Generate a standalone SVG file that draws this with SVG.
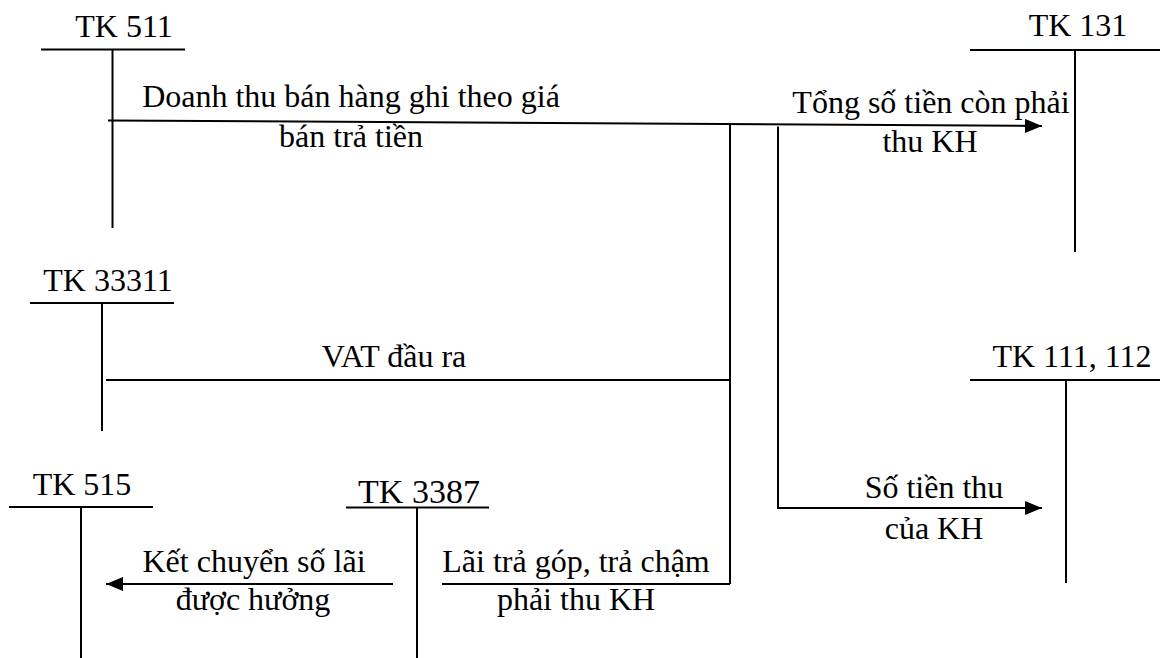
<svg xmlns="http://www.w3.org/2000/svg" width="1160" height="658" viewBox="0 0 1160 658" font-family="'Liberation Serif', 'Times New Roman', Times, 'DejaVu Serif', serif">
  <style>
    text { font-family: "Times New Roman", "Liberation Serif", Times, "DejaVu Serif", serif; font-size: 32px; fill: #000; text-anchor: middle; }
    .acc line, .flow line, .flow polyline { stroke: #000; stroke-width: 2; fill: none; }
    .big { font-size: 34px; }
  </style>
  <defs>
    <marker id="arrow" viewBox="0 0 17 14" refX="17" refY="7" markerWidth="17" markerHeight="14" markerUnits="userSpaceOnUse" orient="auto">
      <path d="M0,0 L17,7 L0,14 Z" fill="#000"/>
    </marker>
  </defs>

  <rect width="1160" height="658" fill="#fff"/>

  <!-- T-accounts -->
  <g id="tk511" class="acc">
    <text x="124" y="37">TK 511</text>
    <line x1="41" y1="49.5" x2="185" y2="49.5"/>
    <line x1="112.5" y1="49.5" x2="112.5" y2="228"/>
  </g>
  <g id="tk131" class="acc">
    <text x="1078" y="36">TK 131</text>
    <line x1="970" y1="50" x2="1160" y2="50"/>
    <line x1="1075" y1="50" x2="1075" y2="252"/>
  </g>
  <g id="tk33311" class="acc">
    <text x="108" y="291">TK 33311</text>
    <line x1="30" y1="303" x2="174" y2="303"/>
    <line x1="102" y1="303" x2="102" y2="431"/>
  </g>
  <g id="tk111-112" class="acc">
    <text x="1072" y="367">TK 111, 112</text>
    <line x1="970" y1="380" x2="1160" y2="380"/>
    <line x1="1066" y1="380" x2="1066" y2="583"/>
  </g>
  <g id="tk515" class="acc">
    <text x="82" y="495">TK 515</text>
    <line x1="9" y1="507" x2="153" y2="507"/>
    <line x1="81" y1="507" x2="81" y2="658"/>
  </g>
  <g id="tk3387" class="acc">
    <text class="big" x="419" y="503">TK 3387</text>
    <line x1="346" y1="507.5" x2="489" y2="507.5"/>
    <line x1="417" y1="507.5" x2="417" y2="658"/>
  </g>

  <!-- Connectors -->
  <g id="connectors" class="flow">
    <!-- sales revenue to receivables -->
    <line x1="108" y1="120.5" x2="1042" y2="126" marker-end="url(#arrow)"/>
    <!-- collector from VAT and interest lines -->
    <line x1="730" y1="124.3" x2="730" y2="584"/>
    <line x1="106" y1="380" x2="730" y2="380"/>
    <line x1="442" y1="584" x2="730" y2="584"/>
    <!-- cash received from customer -->
    <polyline points="778,126.6 778,508 1042,508" marker-end="url(#arrow)"/>
    <!-- interest transferred to TK 515 -->
    <line x1="393" y1="584" x2="106" y2="584" marker-end="url(#arrow)"/>
  </g>

  <!-- Connector labels -->
  <g id="labels">
    <text x="351" y="107">Doanh thu bán hàng ghi theo giá</text>
    <text x="351" y="147">bán trả tiền</text>
    <text x="931" y="113">Tổng số tiền còn phải</text>
    <text x="930" y="152">thu KH</text>
    <text x="394" y="367">VAT đầu ra</text>
    <text x="934" y="498">Số tiền thu</text>
    <text x="934" y="539">của KH</text>
    <text x="254" y="572">Kết chuyển số lãi</text>
    <text x="253" y="610">được hưởng</text>
    <text x="576" y="572">Lãi trả góp, trả chậm</text>
    <text x="576" y="610">phải thu KH</text>
  </g>
</svg>
